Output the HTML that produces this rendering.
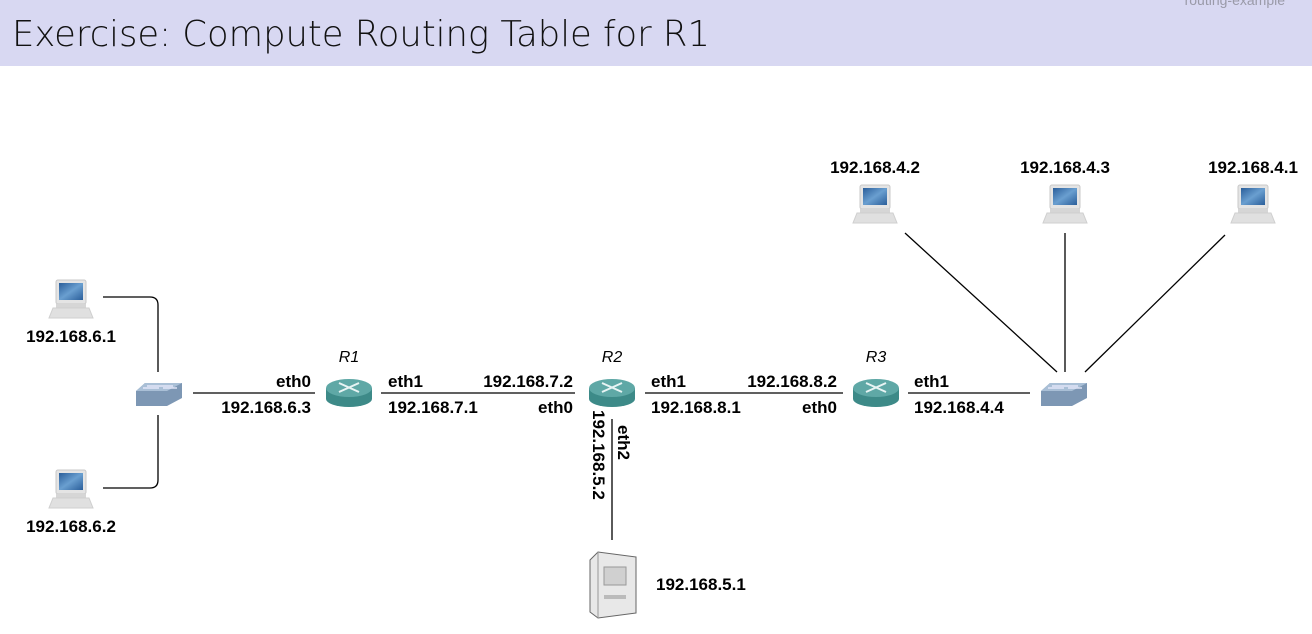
<!DOCTYPE html>
<html><head><meta charset="utf-8"><style>
body{margin:0;width:1312px;height:629px;overflow:hidden;background:#fff;font-family:"Liberation Sans",sans-serif}
svg text{font-family:"Liberation Sans",sans-serif}
</style></head><body>
<svg width="1312" height="629" viewBox="0 0 1312 629" xmlns="http://www.w3.org/2000/svg">
<defs>
<linearGradient id="scr" x1="0" y1="0" x2="1" y2="1"><stop offset="0" stop-color="#2a5e9a"/><stop offset="0.5" stop-color="#6a9fd0"/><stop offset="1" stop-color="#2a5e9a"/></linearGradient>
<g id="lap">
<rect x="-15" y="0" width="30" height="24" rx="2" fill="#e4e4e4" stroke="#c8c8c8"/>
<rect x="-12" y="3" width="24" height="17" fill="url(#scr)"/>
<rect x="-15" y="24" width="30" height="4" fill="#d6d6d6"/>
<path d="M-18 28 L18 28 L22 38 L-22 38 Z" fill="#e0e0e0" stroke="#cfcfcf"/>
</g>
<g id="sw">
<path d="M-14 -11 L23 -11 L23 4 L8 12 L-23 12 L-23 -3 Z" fill="#7d97b4"/>
<path d="M-14 -11 L23 -11 L8 -3 L-23 -3 Z" fill="#a9bfd6"/>
<path d="M-12 -8 L4 -8 M-16 -6 L0 -6 M0 -8 L14 -8 M4 -6 L18 -6" stroke="#eef" stroke-width="1.2"/>
</g>
<g id="rt">
<path d="M-23 -5 L-23 6 A23 8 0 0 0 23 6 L23 -5 Z" fill="#3d8a88"/>
<ellipse cx="0" cy="-5" rx="23" ry="9" fill="#5fa8a6"/>
<path d="M-10 -10 L10 -1 M10 -10 L-10 -1" stroke="#e8f4f4" stroke-width="2"/>
</g>
</defs>
<rect x="0" y="0" width="1312" height="66" fill="#d8d8f2"/>
<text x="1285" y="5" text-anchor="end" font-size="14" fill="#9a9aa8">routing-example</text>
<text x="12" y="46" font-size="36" fill="#111" style="font-family:'DejaVu Sans',sans-serif;font-weight:300" textLength="698" lengthAdjust="spacingAndGlyphs">Exercise: Compute Routing Table for R1</text>

<g stroke="#000" stroke-width="1.3" fill="none">
<path d="M103 297 H150 Q158 297 158 305 V372"/>
<path d="M158 415 V480 Q158 488 150 488 H103"/>
<path d="M193 393 H315"/><path d="M381 393 H575"/><path d="M645 393 H843"/><path d="M908 393 H1030"/>
<path d="M612 419 V540"/>
<path d="M905 233 L1057 372"/><path d="M1065 233 V372"/><path d="M1225 235 L1085 372"/>
</g>
<use href="#lap" x="71" y="280"/><use href="#lap" x="71" y="470"/>
<use href="#lap" x="875" y="185"/><use href="#lap" x="1065" y="185"/><use href="#lap" x="1253" y="185"/>
<use href="#sw" x="159" y="394"/><use href="#sw" x="1064" y="394"/>
<use href="#rt" x="349" y="393"/><use href="#rt" x="612" y="393"/><use href="#rt" x="876" y="393"/>
<g>
<path d="M590 560 L598 552 L636 557 L636 613 L598 618 L590 612 Z" fill="#e8e8e8" stroke="#666"/>
<path d="M598 552 L598 618" stroke="#999"/>
<rect x="604" y="567" width="22" height="18" fill="#d0d0d0" stroke="#999"/>
<rect x="604" y="595" width="22" height="4" fill="#bbb"/>
</g>
<g font-size="17" font-weight="bold" fill="#000">
<text x="71" y="342" text-anchor="middle">192.168.6.1</text>
<text x="71" y="532" text-anchor="middle">192.168.6.2</text>
<text x="875" y="173" text-anchor="middle">192.168.4.2</text>
<text x="1065" y="173" text-anchor="middle">192.168.4.3</text>
<text x="1253" y="173" text-anchor="middle">192.168.4.1</text>
<text x="311" y="387" text-anchor="end">eth0</text>
<text x="311" y="413" text-anchor="end">192.168.6.3</text>
<text x="388" y="387">eth1</text><text x="388" y="413">192.168.7.1</text>
<text x="573" y="387" text-anchor="end">192.168.7.2</text><text x="573" y="413" text-anchor="end">eth0</text>
<text x="651" y="387">eth1</text><text x="651" y="413">192.168.8.1</text>
<text x="837" y="387" text-anchor="end">192.168.8.2</text><text x="837" y="413" text-anchor="end">eth0</text>
<text x="914" y="387">eth1</text><text x="914" y="413">192.168.4.4</text>
<text x="656" y="590">192.168.5.1</text>
<text transform="translate(593,410) rotate(90)">192.168.5.2</text>
<text transform="translate(618,425) rotate(90)">eth2</text>
</g>
<g font-size="16" font-style="italic" fill="#000" text-anchor="middle">
<text x="349" y="362">R1</text><text x="612" y="362">R2</text><text x="876" y="362">R3</text>
</g>
</svg>
</body></html>
